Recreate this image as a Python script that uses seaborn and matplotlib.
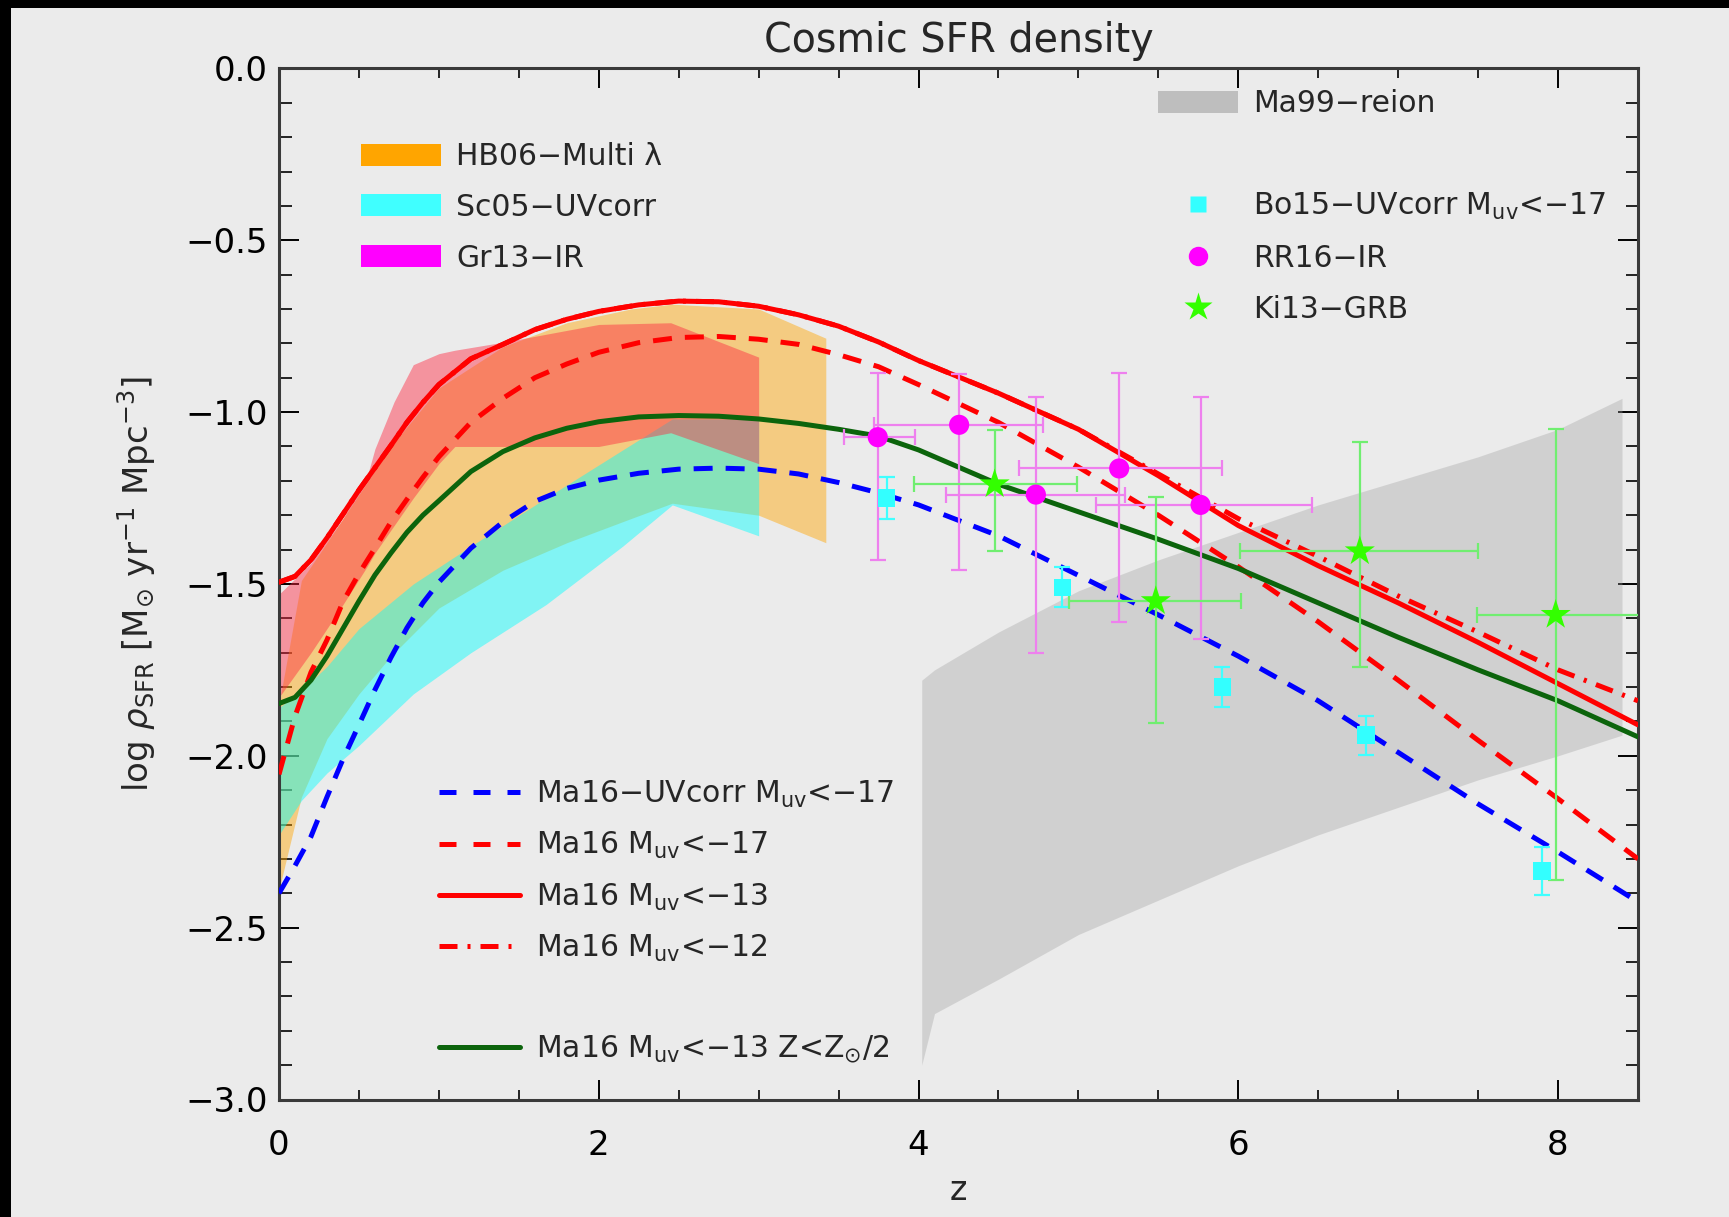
import numpy as np
import matplotlib
matplotlib.use("Agg")
import matplotlib.pyplot as plt
import seaborn as sns
from matplotlib.patches import Patch, Rectangle
from matplotlib.lines import Line2D
from matplotlib.ticker import MultipleLocator, FuncFormatter

# ---------------- data ----------------
z_curve = [0, 0.1, 0.2, 0.3, 0.4, 0.5, 0.6, 0.7, 0.8, 0.9, 1.0, 1.2, 1.4, 1.6, 1.8,
           2.0, 2.25, 2.5, 2.75, 3.0, 3.25, 3.5, 3.75, 4.0, 4.5, 5.0, 5.5, 6.0,
           6.5, 7.0, 7.5, 8.0, 8.5]
ma16_uvcorr_m17 = [-2.40, -2.32, -2.235, -2.12, -2.01, -1.91, -1.808, -1.714, -1.628,
                   -1.555, -1.495, -1.396, -1.32, -1.26, -1.222, -1.198, -1.178, -1.166,
                   -1.163, -1.166, -1.18, -1.205, -1.235, -1.27, -1.36, -1.475, -1.59,
                   -1.71, -1.84, -1.99, -2.14, -2.28, -2.425]
ma16_m17 = [-2.054, -1.885, -1.757, -1.663, -1.552, -1.47, -1.396, -1.32, -1.254, -1.19,
            -1.13, -1.03, -0.96, -0.90, -0.86, -0.826, -0.798, -0.783, -0.78, -0.788,
            -0.803, -0.833, -0.868, -0.92, -1.03, -1.16, -1.30, -1.45, -1.61, -1.78,
            -1.955, -2.125, -2.30]
ma16_m13 = [-1.495, -1.478, -1.43, -1.366, -1.297, -1.227, -1.162, -1.097, -1.03, -0.972,
            -0.92, -0.845, -0.803, -0.76, -0.73, -0.707, -0.688, -0.677, -0.679, -0.692,
            -0.717, -0.75, -0.796, -0.85, -0.945, -1.05, -1.185, -1.33, -1.447, -1.555,
            -1.67, -1.79, -1.91]
ma16_m12 = [-1.495, -1.478, -1.43, -1.366, -1.297, -1.227, -1.162, -1.097, -1.03, -0.972,
            -0.92, -0.845, -0.803, -0.76, -0.73, -0.707, -0.688, -0.677, -0.679, -0.692,
            -0.717, -0.75, -0.796, -0.85, -0.945, -1.05, -1.18, -1.31, -1.42, -1.535,
            -1.64, -1.75, -1.84]
ma16_m13_lowZ = [-1.848, -1.83, -1.78, -1.71, -1.63, -1.55, -1.474, -1.41, -1.35, -1.30,
                 -1.258, -1.173, -1.115, -1.075, -1.047, -1.028, -1.014, -1.01, -1.012,
                 -1.02, -1.033, -1.05, -1.07, -1.11, -1.21, -1.29, -1.37, -1.455, -1.555,
                 -1.655, -1.75, -1.84, -1.945]

# shaded bands
z_hb06 = [0, 0.14, 0.3, 0.5, 0.7, 1.0, 1.4, 1.8, 2.2, 2.46, 3.0, 3.42]
hb06_hi = [-1.85, -1.49, -1.38, -1.24, -1.10, -0.93, -0.81, -0.74, -0.70, -0.686, -0.70, -0.785]
hb06_lo = [-2.39, -2.12, -1.95, -1.82, -1.71, -1.57, -1.46, -1.38, -1.31, -1.265, -1.30, -1.38]

z_sc05 = [0, 0.14, 0.3, 0.5, 0.84, 1.2, 1.67, 2.15, 2.46, 3.0]
sc05_hi = [-1.86, -1.81, -1.74, -1.63, -1.50, -1.39, -1.25, -1.11, -1.02, -1.02]
sc05_lo = [-2.23, -2.13, -2.05, -1.97, -1.82, -1.70, -1.56, -1.39, -1.27, -1.36]

z_gr13 = [0, 0.2, 0.4, 0.55, 0.6, 0.72, 0.84, 1.0, 1.1, 1.41, 2.0, 2.45, 3.0]
gr13_hi = [-1.53, -1.44, -1.31, -1.19, -1.107, -0.97, -0.862, -0.83, -0.82, -0.796, -0.745, -0.74, -0.84]
gr13_lo = [-1.83, -1.70, -1.56, -1.45, -1.41, -1.33, -1.25, -1.15, -1.10, -1.10, -1.10, -1.06, -1.15]

z_ma99 = [4.02, 4.1, 4.5, 5.0, 5.5, 6.0, 6.5, 7.0, 7.5, 8.0, 8.4]
ma99_hi = [-1.78, -1.75, -1.64, -1.52, -1.43, -1.35, -1.27, -1.20, -1.13, -1.05, -0.96]
ma99_lo = [-2.90, -2.75, -2.65, -2.52, -2.42, -2.32, -2.23, -2.15, -2.07, -2.00, -1.94]

# data points
bo15_z = [3.80, 4.90, 5.90, 6.80, 7.90]
bo15_y = [-1.25, -1.51, -1.80, -1.94, -2.335]
bo15_ylo = [-1.31, -1.568, -1.858, -1.997, -2.405]
bo15_yhi = [-1.19, -1.452, -1.742, -1.883, -2.265]

rr16_z = [3.745, 4.254, 4.734, 5.255, 5.764]
rr16_y = [-1.073, -1.037, -1.24, -1.164, -1.27]
rr16_ylo = [-1.43, -1.46, -1.70, -1.61, -1.66]
rr16_yhi = [-0.886, -0.89, -0.957, -0.887, -0.955]
rr16_zlo = [3.535, 3.72, 4.17, 4.63, 5.11]
rr16_zhi = [3.98, 4.78, 5.29, 5.90, 6.46]

ki13_z = [4.476, 5.484, 6.76, 7.985]
ki13_y = [-1.21, -1.55, -1.405, -1.59]
ki13_ylo = [-1.405, -1.905, -1.743, -2.36]
ki13_yhi = [-1.052, -1.246, -1.086, -1.05]
ki13_zlo = [3.97, 4.94, 6.01, 7.49]
ki13_zhi = [4.99, 6.02, 7.50, 8.55]

x_ticks = [0, 2, 4, 6, 8]

# ---------------- style ----------------
BG = "#ebebeb"
sns.set_theme(style="ticks")
plt.rcParams["font.family"] = ["DejaVu Sans"]
plt.rcParams["mathtext.fontset"] = "dejavusans"
plt.rcParams["axes.unicode_minus"] = True

W, H = 1729, 1217
fig = plt.figure(figsize=(W / 100, H / 100), dpi=100, facecolor=BG)
L, R, T, B = 279, 1638, 68.4, 1099.5
ax = fig.add_axes([L / W, (H - B) / H, (R - L) / W, (B - T) / H])
ax.set_facecolor(BG)

# bands
ax.fill_between(z_ma99, ma99_lo, ma99_hi, color="#a0a0a0", alpha=0.35, lw=0, zorder=1)
ax.fill_between(z_hb06, hb06_lo, hb06_hi, color="#ffa500", alpha=0.45, lw=0, zorder=1.1)
ax.fill_between(z_sc05, sc05_lo, sc05_hi, color="#00ffff", alpha=0.45, lw=0, zorder=1.2)
ax.fill_between(z_gr13, gr13_lo, gr13_hi, color="#ff2840", alpha=0.45, lw=0, zorder=1.3)

LW = 3.6
DASH = (3.8, 2.6)
DASHDOT = (3.6, 2.0, 0.6, 2.0)
curves = [
    (ma16_uvcorr_m17, "#0000ff", "--", DASH),
    (ma16_m17, "#ff0000", "--", DASH),
    (ma16_m12, "#ff0000", "-.", DASHDOT),
    (ma16_m13, "#ff0000", "-", None),
    (ma16_m13_lowZ, "#0c640c", "-", None),
]
for yv, col, ls, dsh in curves:
    sns.lineplot(x=z_curve, y=yv, ax=ax, color=col, lw=LW, linestyle=ls,
                 sort=False, estimator=None, zorder=3)
    if dsh is not None:
        ax.lines[-1].set_dashes(dsh)
        ax.lines[-1].set_dash_capstyle("butt")


def asym(v, lo, hi):
    v, lo, hi = np.asarray(v), np.asarray(lo), np.asarray(hi)
    return [v - lo, hi - v]


ax.errorbar(bo15_z, bo15_y, yerr=asym(bo15_y, bo15_ylo, bo15_yhi), fmt="none",
            ecolor="#40ffff", elinewidth=1.6, capsize=6, capthick=1.6, zorder=4)
ax.errorbar(rr16_z, rr16_y, yerr=asym(rr16_y, rr16_ylo, rr16_yhi),
            xerr=asym(rr16_z, rr16_zlo, rr16_zhi), fmt="none",
            ecolor="#ee80ee", elinewidth=1.6, capsize=6, capthick=1.6, zorder=4)
ax.errorbar(ki13_z, ki13_y, yerr=asym(ki13_y, ki13_ylo, ki13_yhi),
            xerr=asym(ki13_z, ki13_zlo, ki13_zhi), fmt="none",
            ecolor="#70ee70", elinewidth=1.6, capsize=6, capthick=1.6, zorder=4)

sns.scatterplot(x=bo15_z, y=bo15_y, ax=ax, marker="s", s=160, color="#33ffff",
                edgecolor="none", zorder=5)
sns.scatterplot(x=rr16_z, y=rr16_y, ax=ax, marker="o", s=210, color="#ff00ff",
                edgecolor="none", zorder=5)
sns.scatterplot(x=ki13_z, y=ki13_y, ax=ax, marker="*", s=520, color="#33ff00",
                edgecolor="none", zorder=5)

# axes
ax.set_xlim(0, 8.5)
ax.set_ylim(-3.0, 0.0)
ax.set_xticks(x_ticks)
ax.xaxis.set_minor_locator(MultipleLocator(0.5))
ax.yaxis.set_major_locator(MultipleLocator(0.5))
ax.yaxis.set_minor_locator(MultipleLocator(0.1))
ax.xaxis.set_major_formatter(FuncFormatter(lambda v, p: "%d" % round(v)))
ax.yaxis.set_major_formatter(FuncFormatter(
    lambda v, p: "0.0" if abs(v) < 1e-9 else ("%.1f" % v).replace("-", "\u2212")))
ax.tick_params(which="both", direction="in", top=True, right=True, colors="black")
ax.tick_params(which="major", length=14.5, width=1.4, labelsize=24.5)
ax.tick_params(axis="x", which="major", pad=21)
ax.tick_params(axis="y", which="major", pad=8)
ax.tick_params(axis="x", which="minor", length=7.5, width=1.2)
ax.tick_params(axis="y", which="minor", length=9, width=1.2)
for sp in ax.spines.values():
    sp.set_linewidth(2.2)
    sp.set_color("#3a3a3a")
ax.grid(False)

ax.set_xlabel("z", fontsize=24)
ax.xaxis.set_label_coords(0.5, -0.072)
ax.set_ylabel(r"log $\rho_{\rm SFR}$ [M$_{\odot}$ yr$^{-1}$ Mpc$^{-3}$]", fontsize=24.5)
ax.yaxis.set_label_coords(-0.089, 0.5)
fig.text((L + R) / 2 / W, 1 - 41 / H, "Cosmic SFR density", ha="center", va="center",
         fontsize=28.5)

# legends
FS = 21.5
leg1 = ax.legend(
    handles=[Patch(facecolor="#ffa500", edgecolor="none"),
             Patch(facecolor="#40ffff", edgecolor="none"),
             Patch(facecolor="#ff00ff", edgecolor="none")],
    labels=["HB06\u2212Multi \u03bb", "Sc05\u2212UVcorr", "Gr13\u2212IR"],
    loc="upper left", bbox_to_anchor=(0.060, 0.9286), frameon=False, fontsize=FS,
    handlelength=2.7, handleheight=0.75, handletextpad=0.5, labelspacing=0.73,
    borderpad=0, borderaxespad=0)
ax.add_artist(leg1)

leg2 = ax.legend(
    handles=[Patch(facecolor="#bebebe", edgecolor="none"),
             Line2D([], [], linestyle="none"),
             Line2D([], [], linestyle="none", marker="s", markersize=12,
                    markerfacecolor="#33ffff", markeredgecolor="none"),
             Line2D([], [], linestyle="none", marker="o", markersize=14,
                    markerfacecolor="#ff00ff", markeredgecolor="none"),
             Line2D([], [], linestyle="none", marker="*", markersize=21,
                    markerfacecolor="#33ff00", markeredgecolor="none")],
    labels=["Ma99\u2212reion", " ", "Bo15\u2212UVcorr M$_{\\rm uv}$<\u221217",
            "RR16\u2212IR", "Ki13\u2212GRB"],
    loc="upper left", bbox_to_anchor=(0.6467, 0.9797), frameon=False, fontsize=FS,
    handlelength=2.7, handleheight=0.75, handletextpad=0.5, labelspacing=0.73,
    borderpad=0, borderaxespad=0)
ax.add_artist(leg2)


def lh(col, ls, dsh):
    ln = Line2D([], [], color=col, lw=LW, linestyle=ls)
    if dsh is not None:
        ln.set_dashes(dsh)
    return ln


leg3 = ax.legend(
    handles=[lh("#0000ff", "--", (3.4, 3.4)), lh("#ff0000", "--", (3.4, 3.4)),
             lh("#ff0000", "-", None), lh("#ff0000", "-.", DASHDOT),
             Line2D([], [], linestyle="none"), lh("#0c640c", "-", None)],
    labels=["Ma16\u2212UVcorr M$_{\\rm uv}$<\u221217", "Ma16 M$_{\\rm uv}$<\u221217",
            "Ma16 M$_{\\rm uv}$<\u221213", "Ma16 M$_{\\rm uv}$<\u221212", " ",
            "Ma16 M$_{\\rm uv}$<\u221213 Z<Z$_{\\odot}$/2"],
    loc="upper left", bbox_to_anchor=(0.1177, 0.3112), frameon=False, fontsize=FS,
    handlelength=2.7, handletextpad=0.55, labelspacing=0.68,
    borderpad=0, borderaxespad=0)

# black frame strips (top and left) of the original screenshot
fig.add_artist(Rectangle((0, 1 - 8 / H), 1, 8 / H, transform=fig.transFigure,
                         facecolor="black", edgecolor="none", zorder=10))
fig.add_artist(Rectangle((0, 0), 11 / W, 1, transform=fig.transFigure,
                         facecolor="black", edgecolor="none", zorder=10))

fig.savefig("out.png", dpi=100, facecolor=BG)
